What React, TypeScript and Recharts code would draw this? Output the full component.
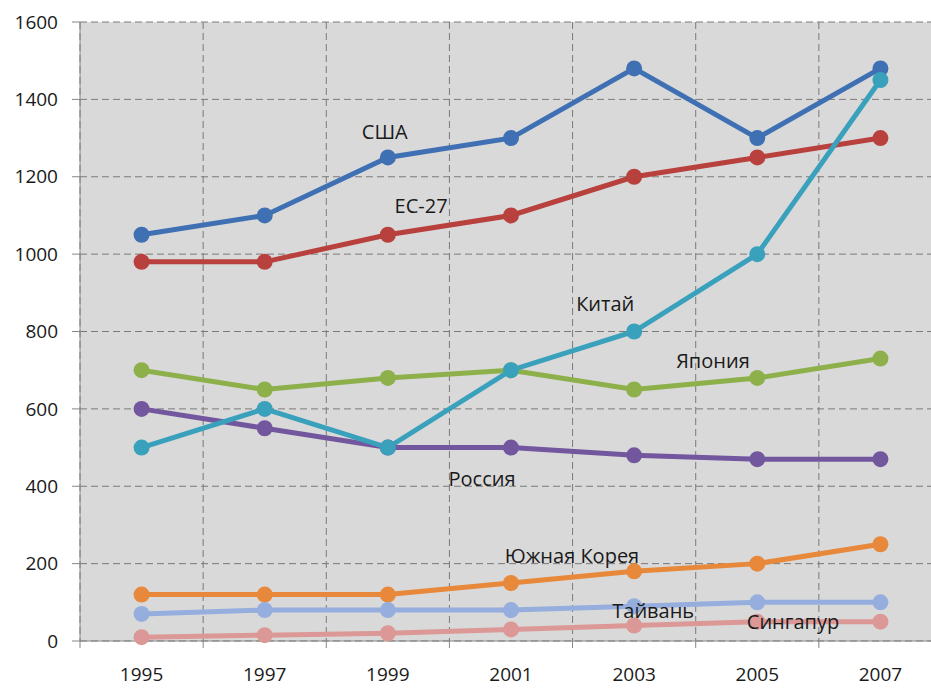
import React from 'react';
import { LineChart, Line, XAxis, YAxis, CartesianGrid, ReferenceDot } from 'recharts';

const years = [1995, 1997, 1999, 2001, 2003, 2005, 2007];
const bounds = [1994, 1996, 1998, 2000, 2002, 2004, 2006, 2008];
const yTicks = [0, 200, 400, 600, 800, 1000, 1200, 1400, 1600];

const usa = [1050, 1100, 1250, 1300, 1480, 1300, 1480];
const eu27 = [980, 980, 1050, 1100, 1200, 1250, 1300];
const japan = [700, 650, 680, 700, 650, 680, 730];
const russia = [600, 550, 500, 500, 480, 470, 470];
const korea = [120, 120, 120, 150, 180, 200, 250];
const taiwan = [70, 80, 80, 80, 90, 100, 100];
const singapore = [10, 15, 20, 30, 40, 50, 50];
const china = [500, 600, 500, 700, 800, 1000, 1450];

// series names, label text and where the label sits (year, value)
const seriesKeys = ['usa', 'eu27', 'japan', 'russia', 'korea', 'taiwan', 'singapore', 'china'];
const seriesColors = ['#3f70b3', '#b8403d', '#8db04b', '#73579e', '#e8883a', '#95aedd', '#dc9896', '#3aa1bd'];
const labelTexts = ['США', 'ЕС-27', 'Япония', 'Россия', 'Южная Корея', 'Тайвань', 'Сингапур', 'Китай'];
const labelYears = [1998.95, 1999.54, 2004.28, 2000.53, 2001.99, 2003.31, 2005.58, 2002.53];
const labelValues = [1316, 1124, 724, 419, 220, 78, 49, 871];

const seriesValues = [usa, eu27, japan, russia, korea, taiwan, singapore, china];

const data = years.map((year, i) => {
  const row: Record<string, number> = { year };
  seriesKeys.forEach((k, j) => {
    row[k] = seriesValues[j][i];
  });
  return row;
});

const FONT = '"Open Sans", sans-serif';
const AXIS = '#868686';

const XTick = (props: any) => {
  const { x, y, payload } = props;
  const v = payload.value;
  if (v % 2 === 0) {
    return <line x1={x} y1={y - 7} x2={x} y2={y} stroke={AXIS} strokeWidth={1} />;
  }
  return (
    <text x={x} y={y + 26} textAnchor="middle" dominantBaseline="central" fill="#1a1a1a" fontSize={19} fontFamily={FONT}>
      {v}
    </text>
  );
};

export default function App() {
  return (
    <div style={{ position: 'absolute', left: 0, top: 0, width: 931, height: 689, overflow: 'hidden', background: '#fff' }}>
      <LineChart width={952} height={689} data={data} margin={{ top: 22, right: 10, bottom: 0, left: 0 }}>
        <CartesianGrid
          fill="#d9d9d9"
          stroke="#7a7a7a"
          strokeDasharray="7 4"
          verticalValues={bounds}
        />
        <XAxis
          dataKey="year"
          type="number"
          domain={[1994, 2008]}
          ticks={[...bounds, ...years].sort((a, b) => a - b)}
          interval={0}
          height={48}
          tickLine={false}
          tickSize={7}
          tickMargin={0}
          tick={<XTick />}
          axisLine={{ stroke: AXIS }}
        />
        <YAxis
          type="number"
          domain={[0, 1600]}
          ticks={yTicks}
          interval={0}
          width={80}
          tickSize={8}
          tickMargin={14}
          tickLine={{ stroke: AXIS }}
          axisLine={{ stroke: AXIS }}
          tick={{ fill: '#1a1a1a', fontSize: 19, fontFamily: FONT }}
        />
        {seriesKeys.map((k, j) => (
          <Line
            key={k}
            dataKey={k}
            stroke={seriesColors[j]}
            strokeWidth={5}
            dot={{ r: 8, fill: seriesColors[j], stroke: seriesColors[j], strokeWidth: 0 }}
            activeDot={false}
            isAnimationActive={false}
          />
        ))}
        {labelTexts.map((t, j) => (
          <ReferenceDot
            key={t}
            x={labelYears[j]}
            y={labelValues[j]}
            r={0}
            fill="none"
            stroke="none"
            label={{ value: t, position: 'center', fill: '#1a1a1a', fontSize: 20, fontFamily: FONT }}
          />
        ))}
      </LineChart>
    </div>
  );
}
